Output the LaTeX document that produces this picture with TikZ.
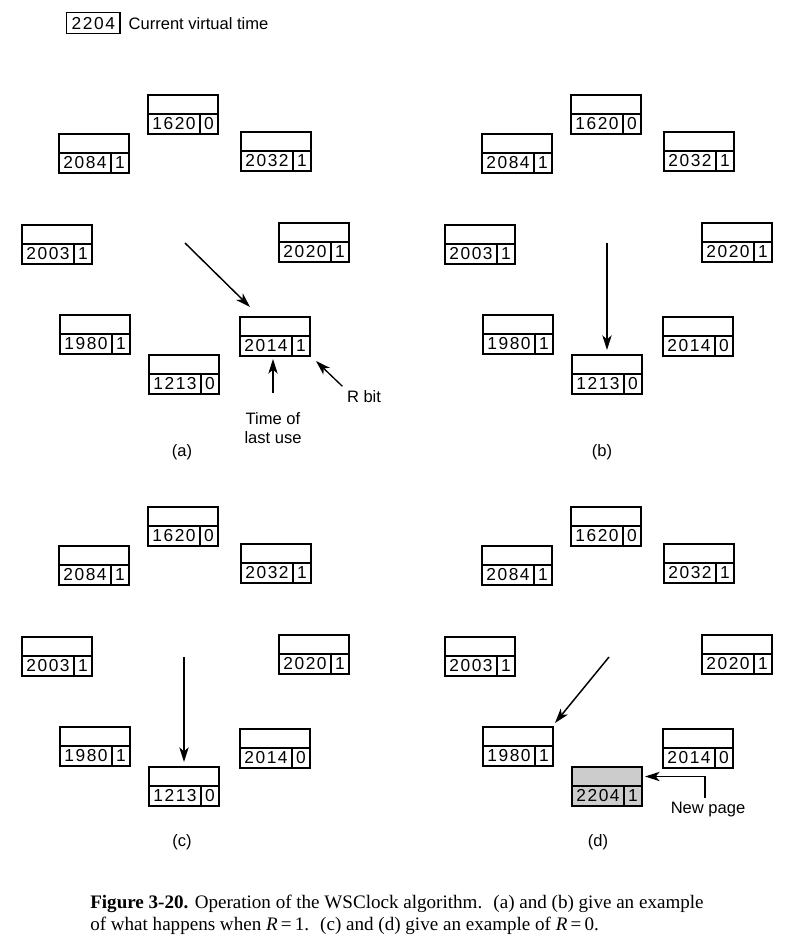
\documentclass[tikz,border=0pt]{standalone}
\usepackage{fontspec}
\setmainfont{Liberation Sans}
\newfontfamily\digitfont[LetterSpace=9]{Liberation Sans}
\newfontfamily\captionfont{Liberation Serif}
\usetikzlibrary{positioning,arrows.meta}
\newcommand\labelsize{\fontsize{12.4}{14.5}\selectfont}
\newcommand\digitsize{\fontsize{13}{15}\selectfont}
\tikzset{node distance=3pt, auto,
  >={Stealth[length=11pt,width=7pt,inset=3pt]},
  every node/.style={font=\labelsize},
  cell/.style={draw, line width=0.8pt, inner sep=0pt, outer sep=0pt},
  tagcell/.style={cell, minimum width=52.5pt, minimum height=14.25pt},
  numcell/.style={cell, minimum width=39pt, minimum height=15pt,
    font=\digitfont\digitsize},
  bitcell/.style={cell, minimum width=13.5pt, minimum height=15pt,
    font=\digitfont\digitsize},
  hand/.style={->, line width=1.1pt},
  pointer/.style={->, line width=1pt}}
% one page frame: empty upper part, time of last use and R bit below
\newcommand\clockpage[6][]{%
  \node [tagcell, #1, anchor=north west] (#2) at (#3,#4) {};
  \node [numcell, #1, below right=0pt of #2.south west] (#2-n) {#5};
  \node [bitcell, #1, right=0pt of #2-n] (#2-b) {#6};
}

\begin{document}
\begin{tikzpicture}[x=0.75pt, y=-0.75pt]
  \useasboundingbox (0,0) rectangle (791,947);

  \node [cell, font=\digitfont\digitsize, minimum width=40pt, minimum height=15.75pt] (vtime) at (93.3,23.2) {2204};
  \node (vtlabel) [right=of vtime] {Current virtual time};

  % (a)
  \clockpage{a1620}{148}{95}{1620}{0}
  \clockpage{a2084}{59}{134}{2084}{1}
  \clockpage{a2032}{241}{132}{2032}{1}
  \clockpage{a2003}{22}{225}{2003}{1}
  \clockpage{a2020}{279}{223}{2020}{1}
  \clockpage{a1980}{60}{315}{1980}{1}
  \clockpage{a1213}{149}{355}{1213}{0}
  \clockpage{a2014}{240}{317}{2014}{1}

  \coordinate (hand-a) at (185,243);
  \draw [hand] (hand-a) -- ([xshift=7.5pt,yshift=7.5pt]a2014.north west);

  \node (lastuse) [align=center] at (273,428) {Time of\\last use};
  \node (rbit) at (364,397) {R bit};
  \draw [pointer, shorten >=2.25pt] ([yshift=11pt]lastuse.north) -- (lastuse.north |- a2014-n.south);
  \draw [pointer] (rbit.north west) -- ([xshift=4.5pt,yshift=-3.75pt]a2014-b.south east);

  \node (lbl-a) at (182,452) {(a)};

  % (b)
  \begin{scope}[shift={(423,0)}]
    \clockpage{b1620}{148}{95}{1620}{0}
    \clockpage{b2084}{59}{134}{2084}{1}
    \clockpage{b2032}{241}{132}{2032}{1}
    \clockpage{b2003}{22}{225}{2003}{1}
    \clockpage{b2020}{279}{223}{2020}{1}
    \clockpage{b1980}{60}{315}{1980}{1}
    \clockpage{b1213}{149}{355}{1213}{0}
    \clockpage{b2014}{240}{317}{2014}{0}

    \coordinate (hand-b) at (184,243);
    \draw [hand] (hand-b) -- ([yshift=3.75pt]b1213.north);

    \node (lbl-b) at (179,452) {(b)};
  \end{scope}

  % (c)
  \begin{scope}[shift={(0,412)}]
    \clockpage{c1620}{148}{95}{1620}{0}
    \clockpage{c2084}{59}{134}{2084}{1}
    \clockpage{c2032}{241}{132}{2032}{1}
    \clockpage{c2003}{22}{225}{2003}{1}
    \clockpage{c2020}{279}{223}{2020}{1}
    \clockpage{c1980}{60}{315}{1980}{1}
    \clockpage{c1213}{149}{355}{1213}{0}
    \clockpage{c2014}{240}{317}{2014}{0}

    \coordinate (hand-c) at (184,245);
    \draw [hand] (hand-c) -- ([yshift=3.75pt]c1213.north);

    \node (lbl-c) at (182,430) {(c)};
  \end{scope}

  % (d)
  \begin{scope}[shift={(423,412)}]
    \clockpage{d1620}{148}{95}{1620}{0}
    \clockpage{d2084}{59}{134}{2084}{1}
    \clockpage{d2032}{241}{132}{2032}{1}
    \clockpage{d2003}{22}{225}{2003}{1}
    \clockpage{d2020}{279}{223}{2020}{1}
    \clockpage{d1980}{60}{315}{1980}{1}
    \clockpage[fill=gray!40]{d2204}{149}{355}{2204}{1}
    \clockpage{d2014}{240}{317}{2014}{0}

    \coordinate (hand-d) at (186,245);
    \draw [hand] (hand-d) -- ([xshift=1.5pt,yshift=3pt]d1980.north east);

    \node (newpage) at (285,398) {New page};
    \draw [pointer, shorten >=2.25pt] ([xshift=-2.25pt]newpage.north) |- (d2204.east);

    \node (lbl-d) at (175,430) {(d)};
  \end{scope}

  \node (caption) [anchor=north west, inner sep=0pt, align=left,
    font=\captionfont\fontsize{14.3}{16.5}\selectfont] at (90,895)
    {\textbf{Figure 3-20.} Operation of the WSClock algorithm. \ (a) and (b) give an example\\
     of what happens when \textit{R}\,=\,1. \ (c) and (d) give an example of \textit{R}\,=\,0.};
\end{tikzpicture}
\end{document}
